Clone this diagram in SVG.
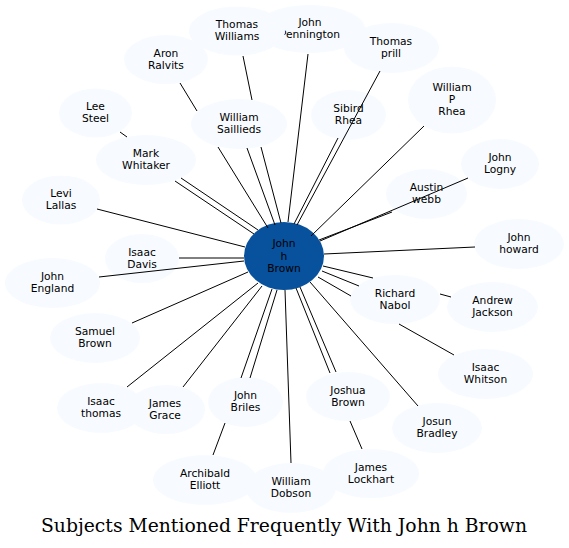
<svg xmlns="http://www.w3.org/2000/svg" width="569" height="548" viewBox="0 0 569 548">
<style>
.n ellipse{fill:#f7fbff;stroke:none}
.n text,.c text{font-family:"DejaVu Sans",sans-serif;font-size:10.7px;fill:#000;text-anchor:middle}
.c ellipse{fill:#08519c;stroke:none}
#edges line{stroke:#000;stroke-width:1}
.title{font-family:"DejaVu Serif",serif;font-size:18px;fill:#000;text-anchor:middle}
</style>
<rect width="569" height="548" fill="#fff"/>
<g id="n_pennington" class="n"><ellipse cx="310" cy="29" rx="55" ry="24"/><text x="310" y="26.3">John</text><text x="310" y="38.1">Pennington</text></g>
<g id="n_thomas_prill" class="n"><ellipse cx="391.5" cy="48" rx="47.5" ry="25"/><text x="391" y="45.3">Thomas</text><text x="391" y="57.1">prill</text></g>
<g id="n_thomas_williams" class="n"><ellipse cx="237" cy="31" rx="48" ry="24.5"/><text x="237" y="28.3">Thomas</text><text x="237" y="40.1">Williams</text></g>
<g id="n_aron" class="n"><ellipse cx="166" cy="59.5" rx="42" ry="24.5"/><text x="166" y="56.8">Aron</text><text x="166" y="68.6">Ralvits</text></g>
<g id="n_lee" class="n"><ellipse cx="95.5" cy="113" rx="36.5" ry="24.5"/><text x="95.5" y="110.3">Lee</text><text x="95.5" y="122.1">Steel</text></g>
<g id="n_saillieds" class="n"><ellipse cx="239" cy="124" rx="48" ry="25"/><text x="239" y="121.3">William</text><text x="239" y="133.1">Saillieds</text></g>
<g id="n_mark" class="n"><ellipse cx="146" cy="160" rx="50" ry="25"/><text x="146" y="157.3">Mark</text><text x="146" y="169.1">Whitaker</text></g>
<g id="n_levi" class="n"><ellipse cx="61" cy="200" rx="39" ry="24.5"/><text x="61" y="197.3">Levi</text><text x="61" y="209.1">Lallas</text></g>
<g id="n_sibird" class="n"><ellipse cx="348.5" cy="115" rx="37.5" ry="25"/><text x="348.5" y="112.3">Sibird</text><text x="348.5" y="124.1">Rhea</text></g>
<g id="n_wprhea" class="n"><ellipse cx="452" cy="100" rx="44" ry="33.5"/><text x="452" y="91.4">William</text><text x="452" y="103.2">P</text><text x="452" y="115">Rhea</text></g>
<g id="n_logny" class="n"><ellipse cx="500" cy="164" rx="39" ry="25"/><text x="500" y="161.3">John</text><text x="500" y="173.1">Logny</text></g>
<g id="n_austin" class="n"><ellipse cx="426.5" cy="194" rx="40.5" ry="25"/><text x="426.5" y="191.3">Austin</text><text x="426.5" y="203.1">webb</text></g>
<g id="n_howard" class="n"><ellipse cx="519" cy="244" rx="45" ry="25"/><text x="519" y="241.3">John</text><text x="519" y="253.1">howard</text></g>
<g id="n_davis" class="n"><ellipse cx="142" cy="258.5" rx="37" ry="24.5"/><text x="142" y="255.8">Isaac</text><text x="142" y="267.6">Davis</text></g>
<g id="n_england" class="n"><ellipse cx="52.5" cy="283" rx="47.5" ry="25"/><text x="52.5" y="280.3">John</text><text x="52.5" y="292.1">England</text></g>
<g id="n_richard" class="n"><ellipse cx="395" cy="299.5" rx="45" ry="24.5"/><text x="395" y="296.8">Richard</text><text x="395" y="308.6">Nabol</text></g>
<g id="n_andrew" class="n"><ellipse cx="492.5" cy="307" rx="45.5" ry="25"/><text x="492.5" y="304.3">Andrew</text><text x="492.5" y="316.1">Jackson</text></g>
<g id="n_samuel" class="n"><ellipse cx="95" cy="338" rx="45" ry="25"/><text x="95" y="335.3">Samuel</text><text x="95" y="347.1">Brown</text></g>
<g id="n_whitson" class="n"><ellipse cx="485.5" cy="374" rx="47.5" ry="25"/><text x="485.5" y="371.3">Isaac</text><text x="485.5" y="383.1">Whitson</text></g>
<g id="n_joshua" class="n"><ellipse cx="348" cy="396.5" rx="42" ry="24.5"/><text x="348" y="393.8">Joshua</text><text x="348" y="405.6">Brown</text></g>
<g id="n_briles" class="n"><ellipse cx="245.5" cy="402" rx="37.5" ry="25"/><text x="245.5" y="399.3">John</text><text x="245.5" y="411.1">Briles</text></g>
<g id="n_isaac_thomas" class="n"><ellipse cx="101" cy="408" rx="44" ry="25"/><text x="101" y="405.3">Isaac</text><text x="101" y="417.1">thomas</text></g>
<g id="n_grace" class="n"><ellipse cx="166" cy="409.5" rx="39" ry="24.5"/><text x="165" y="406.8">James</text><text x="165" y="418.6">Grace</text></g>
<g id="n_josun" class="n"><ellipse cx="437" cy="428" rx="45" ry="25"/><text x="437" y="425.3">Josun</text><text x="437" y="437.1">Bradley</text></g>
<g id="n_archibald" class="n"><ellipse cx="205" cy="480" rx="52" ry="25"/><text x="205" y="477.3">Archibald</text><text x="205" y="489.1">Elliott</text></g>
<g id="n_dobson" class="n"><ellipse cx="291" cy="488" rx="45" ry="25"/><text x="291" y="485.3">William</text><text x="291" y="497.1">Dobson</text></g>
<g id="n_lockhart" class="n"><ellipse cx="371" cy="473.5" rx="48" ry="24.5"/><text x="371" y="470.8">James</text><text x="371" y="482.6">Lockhart</text></g>
<g id="n_center" class="c"><ellipse cx="284" cy="256" rx="40" ry="34"/><text x="284" y="247.4">John</text><text x="284" y="259.6">h</text><text x="284" y="271.8">Brown</text></g>
<g id="edges">
<line x1="175" y1="181" x2="254" y2="234"/>
<line x1="181" y1="178" x2="258" y2="230"/>
<line x1="120" y1="132" x2="127" y2="137"/>
<line x1="180" y1="83" x2="197" y2="111"/>
<line x1="243" y1="56" x2="252" y2="100"/>
<line x1="218" y1="147" x2="268" y2="228"/>
<line x1="247" y1="148" x2="275" y2="225"/>
<line x1="261" y1="147" x2="281" y2="223"/>
<line x1="308" y1="54" x2="288" y2="222"/>
<line x1="380" y1="71" x2="297" y2="225"/>
<line x1="338" y1="138" x2="294" y2="224"/>
<line x1="424" y1="126" x2="311" y2="236"/>
<line x1="468" y1="178" x2="320" y2="241"/>
<line x1="392" y1="212" x2="319" y2="240"/>
<line x1="475" y1="247" x2="324" y2="254"/>
<line x1="373" y1="278" x2="323" y2="266"/>
<line x1="359" y1="286" x2="322" y2="271"/>
<line x1="351" y1="296" x2="318" y2="277"/>
<line x1="440" y1="294" x2="451" y2="297"/>
<line x1="399" y1="324" x2="454" y2="355"/>
<line x1="330" y1="373" x2="296" y2="288"/>
<line x1="336" y1="372" x2="300" y2="287"/>
<line x1="418" y1="406" x2="310" y2="282"/>
<line x1="350" y1="421" x2="362" y2="449"/>
<line x1="291" y1="463" x2="285" y2="290"/>
<line x1="241" y1="378" x2="272" y2="289"/>
<line x1="250" y1="378" x2="277" y2="290"/>
<line x1="225" y1="423" x2="213" y2="455"/>
<line x1="183" y1="387" x2="262" y2="286"/>
<line x1="127" y1="387" x2="258" y2="283"/>
<line x1="132" y1="323" x2="248" y2="272"/>
<line x1="99" y1="277" x2="244" y2="261"/>
<line x1="179" y1="258" x2="244" y2="258"/>
<line x1="97" y1="209" x2="245" y2="247"/>
</g>
<text class="title" x="284" y="532" textLength="486" lengthAdjust="spacingAndGlyphs">Subjects Mentioned Frequently With John h Brown</text>
</svg>
